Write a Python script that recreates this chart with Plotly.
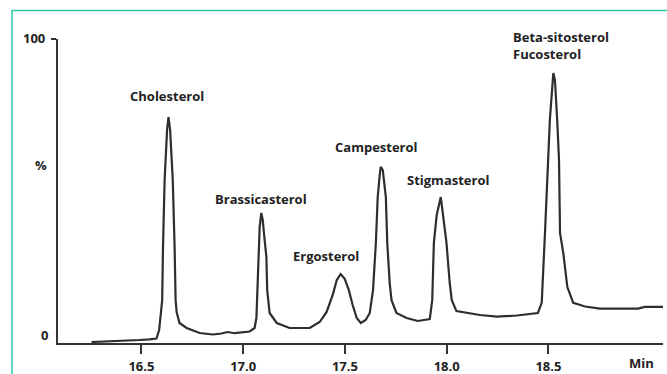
import plotly.graph_objects as go

# Retention time (min) and response (%)
time_min = [16.255, 16.407, 16.491, 16.540, 16.574, 16.587, 16.602, 16.606, 16.614, 16.626,
            16.633, 16.641, 16.654, 16.663, 16.668, 16.673, 16.687, 16.722, 16.786, 16.850,
            16.894, 16.923, 16.958, 17.032, 17.056, 17.065, 17.069, 17.074, 17.081, 17.089,
            17.096, 17.103, 17.114, 17.118, 17.130, 17.165, 17.228, 17.327, 17.376, 17.410,
            17.440, 17.460, 17.479, 17.499, 17.519, 17.538, 17.558, 17.578, 17.602, 17.622,
            17.638, 17.652, 17.661, 17.671, 17.676, 17.686, 17.701, 17.708, 17.720, 17.729,
            17.753, 17.803, 17.858, 17.917, 17.929, 17.937, 17.951, 17.971, 17.981, 17.999,
            18.015, 18.025, 18.048, 18.098, 18.163, 18.247, 18.345, 18.448, 18.467, 18.483,
            18.496, 18.507, 18.524, 18.532, 18.543, 18.552, 18.557, 18.573, 18.593, 18.622,
            18.680, 18.753, 18.940, 18.974, 19.063]
response_pct = [0.33, 0.66, 0.99, 1.22, 1.48, 4.28, 14.1, 31.6, 53.6, 70.1,
                74.3, 70.1, 53.6, 31.6, 14.1, 10.2, 6.58, 4.93, 3.29, 2.80,
                3.13, 3.62, 3.22, 3.78, 4.93, 8.2, 17.4, 28.3, 38.2, 42.8,
                40.5, 35.5, 28.3, 17.4, 9.87, 6.58, 4.93, 4.93, 6.9, 10.2,
                15.8, 20.7, 22.7, 21.1, 17.4, 12.5, 8.2, 6.58, 7.57, 9.87,
                17.4, 32.9, 48.0, 55.3, 57.9, 56.9, 48.0, 32.9, 19.7, 14.1,
                9.87, 8.22, 7.24, 7.89, 14.1, 32.9, 42.1, 48.0, 42.8, 32.9,
                19.7, 14.1, 10.5, 9.87, 9.21, 8.65, 9.05, 9.87, 13.2, 36.2,
                55.9, 73.4, 88.8, 86.5, 73.4, 60.2, 36.2, 29.6, 18.4, 13.2,
                12.0, 11.3, 11.3, 11.9, 11.9]

# Peak labels (the last peak carries two co-eluting compounds)
peak_names = ["Cholesterol", "Brassicasterol", "Ergosterol", "Campesterol",
              "Stigmasterol", "Beta-sitosterol<br>Fucosterol"]
label_x = [16.628, 17.086, 17.407, 17.655, 18.006, 18.318]
label_y = [81.3, 47.4, 28.6, 64.4, 53.6, 98.0]
label_anchor = ["center", "center", "center", "center", "center", "left"]

x_ticks = [16.5, 17.0, 17.5, 18.0, 18.5]
x_tick_text = ["16.5", "17.0", "17.5", "18.0", "18.5"]

FONT = "Open Sans"
FS = 13
AX = "#333333"
TXT = "#222222"

fig = go.Figure()
fig.add_trace(go.Scatter(x=time_min, y=response_pct, mode="lines",
                         line=dict(color="#2e2e2e", width=2.2), showlegend=False,
                         hoverinfo="skip"))

for name, xv, yv, anc in zip(peak_names, label_x, label_y, label_anchor):
    fig.add_annotation(x=xv, y=yv, xref="x", yref="y", text="<b>%s</b>" % name,
                       showarrow=False, xanchor=anc, yanchor="middle", align="left",
                       font=dict(family=FONT, size=FS, color=TXT))

# axis captions
fig.add_annotation(x=-0.0273, y=0.5855, xref="paper", yref="paper", text="<b>%</b>",
                   showarrow=False, xanchor="center", yanchor="middle",
                   font=dict(family=FONT, size=FS, color=TXT))
fig.add_annotation(x=-0.0223, y=0.0263, xref="paper", yref="paper", text="<b>0</b>",
                   showarrow=False, xanchor="center", yanchor="middle",
                   font=dict(family=FONT, size=FS, color=TXT))
fig.add_annotation(x=-0.0185, y=1.004, xref="paper", yref="paper", text="<b>100</b>",
                   showarrow=False, xanchor="right", yanchor="middle",
                   font=dict(family=FONT, size=FS, color=TXT))
fig.add_annotation(x=0.988, y=-0.0658, xref="paper", yref="paper", text="<b>Min</b>",
                   showarrow=False, xanchor="right", yanchor="middle",
                   font=dict(family=FONT, size=FS, color=TXT))

# teal frame
fig.add_shape(type="rect", xref="paper", yref="paper", x0=-0.076, y0=-0.2,
              x1=1.03, y1=1.0938, line=dict(color="#2cc9a9", width=1.5),
              fillcolor="rgba(0,0,0,0)", layer="below")

fig.update_layout(
    width=667, height=374,
    margin=dict(l=58, r=4, t=39, b=31, autoexpand=False),
    paper_bgcolor="white", plot_bgcolor="white",
    xaxis=dict(range=[16.09, 19.063], tickvals=x_ticks, ticktext=x_tick_text,
               showgrid=False, zeroline=False, showline=True, linecolor=AX, linewidth=2,
               ticks="outside", ticklen=9, tickwidth=2, tickcolor=AX, automargin=False,
               tickfont=dict(family=FONT, size=FS, color=TXT, weight="bold"),
               ticklabelstandoff=1),
    yaxis=dict(range=[0, 100], tickvals=[100], showticklabels=False, automargin=False,
               showgrid=False, zeroline=False, showline=True, linecolor=AX, linewidth=2,
               ticks="outside", ticklen=5, tickwidth=2, tickcolor=AX),
)

fig.write_html("out.html", config={"displayModeBar": False},
               post_script="document.body.style.margin='0px';document.body.style.overflow='hidden';")
